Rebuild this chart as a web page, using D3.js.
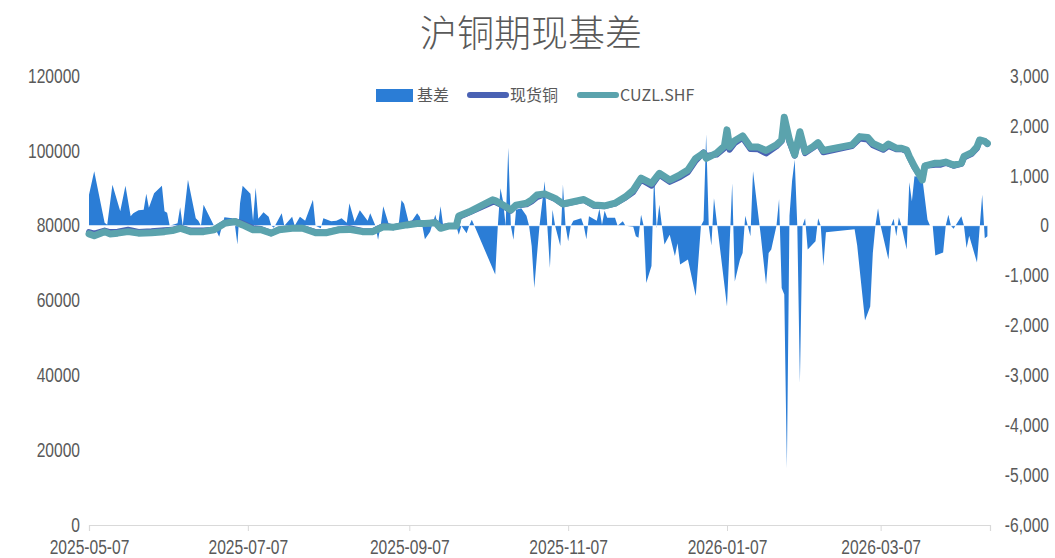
<!DOCTYPE html>
<html>
<head>
<meta charset="utf-8">
<script src="https://cdn.jsdelivr.net/npm/d3@7"></script>
<style>
  body { margin: 0; background: #fff; }
  svg text { fill: #595959; }
  .tick text { font-family: "Liberation Sans", Arial, sans-serif; font-size: 19.5px; }
  .legend text { font-family: "Noto Sans CJK SC", "Liberation Sans", sans-serif; font-size: 16px; }
</style>
</head>
<body>
<svg id="chart" width="1055" height="558"></svg>
<script>
// 基差 (右轴)
var basisDates = [
  "2025-05-07","2025-05-09","2025-05-13","2025-05-14","2025-05-16","2025-05-19","2025-05-21","2025-05-23","2025-05-24","2025-05-26",
  "2025-05-28","2025-05-29","2025-05-30","2025-06-01","2025-06-04","2025-06-05","2025-06-06","2025-06-07","2025-06-10","2025-06-11",
  "2025-06-12","2025-06-14","2025-06-17","2025-06-18","2025-06-19","2025-06-20","2025-06-24","2025-06-26","2025-06-28","2025-07-01",
  "2025-07-02","2025-07-03","2025-07-04","2025-07-05","2025-07-08","2025-07-09","2025-07-10","2025-07-11","2025-07-13","2025-07-15",
  "2025-07-16","2025-07-17","2025-07-20","2025-07-21","2025-07-24","2025-07-25","2025-07-27","2025-07-29","2025-08-01","2025-08-02",
  "2025-08-04","2025-08-05","2025-08-08","2025-08-10","2025-08-12","2025-08-14","2025-08-15","2025-08-17","2025-08-19","2025-08-22",
  "2025-08-23","2025-08-25","2025-08-26","2025-08-27","2025-08-28","2025-08-30","2025-09-01","2025-09-03","2025-09-04","2025-09-05",
  "2025-09-07","2025-09-10","2025-09-11","2025-09-12","2025-09-13","2025-09-15","2025-09-17","2025-09-18","2025-09-19","2025-09-20",
  "2025-09-25","2025-09-26","2025-09-27","2025-09-29","2025-09-30","2025-10-01","2025-10-02","2025-10-10","2025-10-11","2025-10-12",
  "2025-10-13","2025-10-14","2025-10-15","2025-10-16","2025-10-17","2025-10-18","2025-10-20","2025-10-22","2025-10-23","2025-10-24",
  "2025-10-25","2025-10-26","2025-10-27","2025-10-29","2025-10-30","2025-10-31","2025-11-01","2025-11-02","2025-11-04","2025-11-05",
  "2025-11-06","2025-11-07","2025-11-08","2025-11-09","2025-11-12","2025-11-13","2025-11-14","2025-11-15","2025-11-18","2025-11-19",
  "2025-11-20","2025-11-21","2025-11-22","2025-11-25","2025-11-26","2025-11-28","2025-11-29","2025-12-02","2025-12-03","2025-12-04",
  "2025-12-05","2025-12-06","2025-12-07","2025-12-09","2025-12-10","2025-12-11","2025-12-12","2025-12-13","2025-12-14","2025-12-16",
  "2025-12-18","2025-12-19","2025-12-20","2025-12-23","2025-12-26","2025-12-28","2025-12-29","2025-12-30","2025-12-31","2026-01-01",
  "2026-01-02","2026-01-07","2026-01-09","2026-01-10","2026-01-12","2026-01-13","2026-01-14","2026-01-16","2026-01-17","2026-01-20",
  "2026-01-22","2026-01-23","2026-01-24","2026-01-26","2026-01-27","2026-01-28","2026-01-29","2026-01-30","2026-01-31","2026-02-01",
  "2026-02-02","2026-02-03","2026-02-04","2026-02-05","2026-02-06","2026-02-07","2026-02-10","2026-02-11","2026-02-12","2026-02-13",
  "2026-02-14","2026-02-25","2026-02-26","2026-03-01","2026-03-03","2026-03-04","2026-03-05","2026-03-06","2026-03-07","2026-03-10",
  "2026-03-11","2026-03-12","2026-03-13","2026-03-14","2026-03-15","2026-03-17","2026-03-18","2026-03-19","2026-03-20","2026-03-23",
  "2026-03-25","2026-03-26","2026-03-27","2026-03-28","2026-03-31","2026-04-01","2026-04-02","2026-04-03","2026-04-04","2026-04-07",
  "2026-04-08","2026-04-09","2026-04-10","2026-04-13","2026-04-15","2026-04-16","2026-04-17"
];
var basisValues = [
  620, 1090, 60, 20, 820, 290, 800, 190, 250, 310,
  320, 640, 360, 650, 800, 290, 260, 0, 50, 370,
  0, 920, 150, 100, 0, 420, 0, -220, 170, 150,
  30, -380, 450, 800, 640, 100, 760, 140, 270, 180,
  0, -40, 250, 0, 180, 0, 180, 100, 520, 0,
  -50, 150, 90, 100, 150, 60, 450, 80, 310, 100,
  250, 0, -280, 0, 390, 50, 20, 60, 510, 440,
  20, 250, 180, 0, -270, -120, 220, 0, 390, 10,
  0, -180, 0, -150, 0, 120, 0, -980, 0, 750,
  490, 0, 1560, 0, -280, 320, 350, 200, 0, -410,
  -1250, -610, 0, 890, 0, -850, 320, 0, -410, 820,
  0, -310, 0, 100, 150, 0, -270, 190, 100, 340,
  20, 300, 160, 160, 0, 90, 0, -20, -210, -240,
  220, 0, -1150, -810, 1020, -50, 420, 0, -380, -180,
  -610, -350, -780, -680, -1410, 0, 100, 1830, 0, -400,
  550, -1620, 850, -1120, -680, -550, 200, -210, 1090, -210,
  -1180, -550, -480, 0, 530, -1250, -1380, -4860, 200, 900,
  1320, 0, -3150, 0, 150, -480, -310, 150, 0, -810,
  -130, -70, -400, -1900, -1620, -550, 0, 350, 0, -680,
  0, 140, -210, 170, 0, -480, 870, 490, 990, 960,
  120, 0, 0, -600, -540, 0, 220, 0, -60, 190,
  0, -450, -200, -740, 620, -250, -210
];

// 现货铜 / CUZL.SHF (左轴)
var priceDates = [
  "2025-05-07","2025-05-09","2025-05-13","2025-05-15","2025-05-18","2025-05-22","2025-05-26","2025-05-31","2025-06-05","2025-06-08",
  "2025-06-11","2025-06-15","2025-06-20","2025-06-24","2025-06-28","2025-07-02","2025-07-05","2025-07-09","2025-07-12","2025-07-16",
  "2025-07-19","2025-07-24","2025-07-28","2025-08-02","2025-08-06","2025-08-11","2025-08-15","2025-08-20","2025-08-24","2025-08-28",
  "2025-09-01","2025-09-06","2025-09-10","2025-09-13","2025-09-17","2025-09-19","2025-09-22","2025-09-25","2025-09-26","2025-09-30",
  "2025-10-09","2025-10-10","2025-10-13","2025-10-16","2025-10-18","2025-10-22","2025-10-24","2025-10-26","2025-10-29","2025-11-02",
  "2025-11-05","2025-11-09","2025-11-13","2025-11-17","2025-11-21","2025-11-25","2025-11-29","2025-12-02","2025-12-05","2025-12-09",
  "2025-12-12","2025-12-16","2025-12-20","2025-12-23","2025-12-26","2025-12-29","2025-12-30","2026-01-03","2026-01-06","2026-01-07",
  "2026-01-08","2026-01-10","2026-01-13","2026-01-16","2026-01-19","2026-01-22","2026-01-26","2026-01-28","2026-01-29","2026-01-31",
  "2026-02-02","2026-02-04","2026-02-06","2026-02-09","2026-02-11","2026-02-13","2026-02-24","2026-02-27","2026-03-02","2026-03-04",
  "2026-03-08","2026-03-10","2026-03-13","2026-03-15","2026-03-17","2026-03-18","2026-03-20","2026-03-23","2026-03-24","2026-03-28",
  "2026-03-30","2026-04-01","2026-04-04","2026-04-07","2026-04-08","2026-04-11","2026-04-13","2026-04-14","2026-04-16","2026-04-17"
];
var spotValues = [
  78300, 77900, 78700, 78300, 78400, 78900, 78300, 78500, 78800, 78900,
  79500, 78700, 78700, 78900, 80700, 81200, 80600, 79300, 79100, 78000,
  79000, 79400, 79400, 78300, 78200, 79000, 79300, 78600, 78500, 79900,
  79600, 80300, 80800, 80500, 80900, 79500, 79900, 79900, 82300, 83500,
  86300, 86300, 85300, 84000, 85400, 85700, 86500, 87600, 88400, 87100,
  85700, 86300, 86900, 85300, 85200, 85900, 87500, 89000, 92300, 90700,
  93600, 91700, 93000, 94300, 97400, 99600, 98600, 99000, 100700, 104500,
  100300, 102100, 103500, 100500, 100400, 99300, 101200, 102600, 107500, 102300,
  98700, 104200, 99400, 100800, 101900, 99600, 101300, 103300, 103000, 101500,
  100300, 101300, 100400, 100500, 99900, 98400, 95600, 92400, 96000, 96300,
  96300, 96800, 96000, 96500, 98200, 99200, 100700, 102700, 102600, 101800
];
var futValues = [
  77800, 77300, 78400, 77800, 78000, 78400, 78000, 78100, 78400, 78700,
  79300, 78400, 78400, 78900, 80600, 81100, 80200, 78900, 78900, 78000,
  78900, 79300, 79300, 78100, 78100, 78900, 79000, 78400, 78400, 79700,
  79600, 80200, 80600, 80600, 80800, 79300, 79900, 79900, 82600, 83700,
  86900, 86700, 85500, 84200, 85500, 86000, 86900, 88200, 88500, 87300,
  85800, 86400, 87000, 85500, 85300, 86000, 87700, 89500, 92700, 91300,
  94000, 92200, 93600, 94900, 98000, 99400, 98000, 99400, 101300, 105600,
  101000, 102700, 104000, 101000, 101000, 100100, 101600, 102900, 109000, 102900,
  98900, 105100, 99800, 101100, 102200, 100100, 101600, 103800, 103600, 102000,
  100700, 101800, 100700, 100700, 100200, 98500, 95800, 92200, 96000, 96700,
  96700, 97000, 96200, 96700, 98500, 99500, 101100, 102900, 102500, 102000
];

var leftTicks = [0, 20000, 40000, 60000, 80000, 100000, 120000];
var rightTicks = [-6000, -5000, -4000, -3000, -2000, -1000, 0, 1000, 2000, 3000];
var xTickLabels = ["2025-05-07", "2025-07-07", "2025-09-07", "2025-11-07", "2026-01-07", "2026-03-07"];

var parseDate = d3.timeParse("%Y-%m-%d");
var svg = d3.select("#chart");
var squeeze = 0.8; // texte des axes un peu condensé

var basis = basisDates.map(function(d, i) { return { date: parseDate(d), v: basisValues[i] }; });
var prices = priceDates.map(function(d, i) {
  return { date: parseDate(d), spot: spotValues[i], fut: futValues[i] };
});

// échelles
var x = d3.scaleTime()
  .domain([parseDate("2025-05-07"), parseDate("2026-04-18")])
  .range([89, 990]);
var yL = d3.scaleLinear().domain([0, 120000]).range([525, 76]);
var yR = d3.scaleLinear().domain([-6000, 3000]).range([525, 76]);

// titre
svg.append("text")
  .attr("x", 531).attr("y", 47)
  .attr("text-anchor", "middle")
  .style("font-family", "'Noto Sans CJK SC', sans-serif")
  .style("font-weight", 300)
  .style("font-size", "37px")
  .text("沪铜期现基差");

// axe gauche
svg.append("g")
  .attr("transform", "translate(80,0)")
  .call(d3.axisLeft(yL).tickValues(leftTicks).tickSize(0).tickPadding(0).tickFormat(d3.format("d")))
  .call(function(g) {
    g.select(".domain").remove();
    g.selectAll(".tick text").attr("x", 0).attr("transform", "scale(" + squeeze + ",1)");
  });

// axe droit
var fmtR = d3.format(",");
svg.append("g")
  .attr("transform", "translate(1049,0)")
  .call(d3.axisLeft(yR).tickValues(rightTicks).tickSize(0).tickPadding(0)
    .tickFormat(function(d) { return fmtR(d).replace("\u2212", "-"); }))
  .call(function(g) {
    g.select(".domain").remove();
    g.selectAll(".tick text").attr("x", 0).attr("transform", "scale(" + squeeze + ",1)");
  });

// axe des x
var xAxis = svg.append("g")
  .attr("transform", "translate(0,525)")
  .call(d3.axisBottom(x)
    .tickValues(xTickLabels.map(parseDate))
    .tickSize(6)
    .tickPadding(9)
    .tickFormat(d3.timeFormat("%Y-%m-%d")));
xAxis.select(".domain").attr("stroke", "#d9d9d9").attr("stroke-width", 1.2);
xAxis.selectAll(".tick line").attr("stroke", "#d9d9d9");
xAxis.selectAll(".tick text").attr("transform", "scale(" + squeeze + ",1)");

// aire du basis
var area = d3.area()
  .x(function(d) { return x(d.date); })
  .y0(yR(0))
  .y1(function(d) { return yR(d.v); });

svg.append("path")
  .datum(basis)
  .attr("fill", "#2b7dd6")
  .attr("d", area);

svg.append("line")
  .attr("x1", x(basis[0].date)).attr("x2", x(basis[basis.length - 1].date))
  .attr("y1", yR(0)).attr("y2", yR(0))
  .attr("stroke", "#ffffff").attr("stroke-opacity", 0.8).attr("stroke-width", 1);

// lignes de prix
var spotLine = d3.line()
  .x(function(d) { return x(d.date); })
  .y(function(d) { return yL(d.spot); });
var futLine = d3.line()
  .x(function(d) { return x(d.date); })
  .y(function(d) { return yL(d.fut); });

svg.append("path")
  .datum(prices)
  .attr("fill", "none")
  .attr("stroke", "#4a62b4")
  .attr("stroke-width", 6)
  .attr("stroke-linejoin", "round")
  .attr("stroke-linecap", "round")
  .attr("d", spotLine);

svg.append("path")
  .datum(prices)
  .attr("fill", "none")
  .attr("stroke", "#5ba3ad")
  .attr("stroke-width", 7)
  .attr("stroke-linejoin", "round")
  .attr("stroke-linecap", "round")
  .attr("d", futLine);

// légende
var legend = svg.append("g").attr("class", "legend");
legend.append("rect").attr("x", 376).attr("y", 89).attr("width", 37).attr("height", 13).attr("fill", "#2b7dd6");
legend.append("text").attr("x", 417).attr("y", 101).text("基差");
legend.append("line").attr("x1", 470).attr("x2", 506).attr("y1", 95).attr("y2", 95)
  .attr("stroke", "#4a62b4").attr("stroke-width", 6).attr("stroke-linecap", "round");
legend.append("text").attr("x", 510).attr("y", 101).text("现货铜");
legend.append("line").attr("x1", 580).attr("x2", 616).attr("y1", 95).attr("y2", 95)
  .attr("stroke", "#5ba3ad").attr("stroke-width", 6).attr("stroke-linecap", "round");
legend.append("text").attr("x", 620).attr("y", 101).text("CUZL.SHF");
</script>
</body>
</html>
